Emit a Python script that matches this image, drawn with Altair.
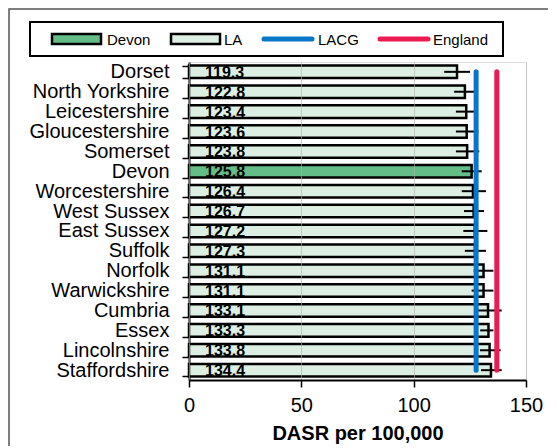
import altair as alt
import pandas as pd

# ---------------- data ----------------
areas = ["Dorset", "North Yorkshire", "Leicestershire", "Gloucestershire", "Somerset",
         "Devon", "Worcestershire", "West Sussex", "East Sussex", "Suffolk", "Norfolk",
         "Warwickshire", "Cumbria", "Essex", "Lincolnshire", "Staffordshire"]
rates = [119.3, 122.8, 123.4, 123.6, 123.8, 125.8, 126.4, 126.7, 127.2, 127.3,
         131.1, 131.1, 133.1, 133.3, 133.8, 134.4]
ci_low = [113.6, 118.0, 118.8, 118.8, 118.8, 121.4, 121.4, 122.4, 122.1, 122.8,
          126.7, 125.8, 127.0, 129.6, 129.5, 130.0]
ci_high = [125.1, 127.6, 128.0, 128.8, 129.2, 130.3, 132.2, 131.3, 132.8, 132.2,
           135.5, 135.5, 139.2, 135.5, 138.7, 139.2]
ref_names = ["LACG", "England"]
ref_values = [127.8, 137.0]
x_ticks = [0, 50, 100, 150]
legend_names = ["Devon", "LA", "LACG", "England"]

FONT = "Liberation Sans"
C_DEVON = "#64BC87"
C_LA = "#DDEFE2"
C_LACG = "#0A76C8"
C_ENG = "#EC1B53"
REF_COLORS = {"LACG": C_LACG, "England": C_ENG}

df = pd.DataFrame({"area": areas, "rate": rates, "lo": ci_low, "hi": ci_high})
df["group"] = ["Devon" if a == "Devon" else "LA" for a in areas]
df["label"] = [f"{v:.1f}" for v in rates]
refs = pd.DataFrame({"name": ref_names, "value": ref_values})

yenc = alt.Y("area:N", sort=areas,
             scale=alt.Scale(domain=areas, paddingInner=0.37, paddingOuter=0.18),
             axis=alt.Axis(title=None, labelFont=FONT, labelFontSize=20, labelColor="black",
                           labelPadding=13, tickSize=7, tickColor="black", tickWidth=1.5,
                           tickBand="extent", domainColor="black", domainWidth=2, grid=False))
xscale = alt.Scale(domain=[0, 150], nice=False, zero=True)
xaxis = alt.Axis(values=x_ticks, title="DASR per 100,000", labelFont=FONT, labelFontSize=20,
                 labelColor="black", labelPadding=8, labelFlush=False, tickSize=7,
                 tickColor="black", tickWidth=1.5, domainColor="black", domainWidth=2,
                 grid=True, gridColor="#b0b0b0", gridOpacity=0.6, gridWidth=1, zindex=1,
                 titleFont=FONT, titleFontSize=20, titleFontWeight="bold",
                 titleColor="black", titlePadding=8)

bars = alt.Chart(df).mark_bar(stroke="black", strokeWidth=2.5).encode(
    x=alt.X("rate:Q", scale=xscale, axis=xaxis),
    y=yenc,
    color=alt.Color("group:N", scale=alt.Scale(domain=["Devon", "LA"], range=[C_DEVON, C_LA]),
                    legend=None),
)

errs = alt.Chart(df).mark_rule(color="black", strokeWidth=2).encode(
    x=alt.X("lo:Q"), x2="hi:Q", y=alt.Y("area:N", sort=areas)
)

labels = alt.Chart(df).mark_text(align="left", baseline="middle", dx=16, dy=1,
                                 font=FONT, fontSize=16, fontWeight="bold",
                                 color="black").encode(
    x=alt.datum(0), y=alt.Y("area:N", sort=areas), text="label:N"
)

reflines = [
    alt.Chart(refs).transform_filter(alt.datum.name == nm).mark_rule(
        strokeWidth=5, strokeCap="round", color=REF_COLORS[nm]).encode(
        x=alt.X("value:Q"),
        y=alt.YDatum(datum=areas[0], type="nominal", bandPosition=0.5),
        y2=alt.Y2Datum(datum=areas[-1], bandPosition=0.5),
    )
    for nm in ref_names
]

one = alt.Data(values=[{}])

# outer figure border (left/top visible)
frame = alt.Chart(one).mark_rect(fillOpacity=0, stroke="#555555", strokeWidth=1.5).encode(
    x=alt.value(-180), x2=alt.value(700), y=alt.value(-53), y2=alt.value(700)
)

# manual legend
leg_layers = [
    alt.Chart(one).mark_rect(fill="white", stroke="black", strokeWidth=2).encode(
        x=alt.value(-159), x2=alt.value(314), y=alt.value(-40), y2=alt.value(-6))
]
swatch_x = [(-137, -88), (-18, 31), (73, 125), (189, 241)]
text_x = [-82, 35, 129, 244]
for i, name in enumerate(legend_names):
    x0, x1 = swatch_x[i]
    if name in ("Devon", "LA"):
        leg_layers.append(alt.Chart(one).mark_rect(
            fill=C_DEVON if name == "Devon" else C_LA, stroke="black", strokeWidth=2.5).encode(
            x=alt.value(x0), x2=alt.value(x1), y=alt.value(-28), y2=alt.value(-18)))
    else:
        leg_layers.append(alt.Chart(one).mark_rule(
            color=REF_COLORS[name], strokeWidth=5, strokeCap="round").encode(
            x=alt.value(x0 + 2), x2=alt.value(x1 - 2), y=alt.value(-23)))
    leg_layers.append(alt.Chart(one).mark_text(
        align="left", baseline="middle", font=FONT, fontSize=15, color="black", text=name).encode(
        x=alt.value(text_x[i]), y=alt.value(-22)))

chart = alt.layer(bars, errs, labels, *reflines, frame, *leg_layers).properties(
    width=337, height=318,
    padding={"left": 181, "top": 54, "right": 22, "bottom": 66},
    autosize=alt.AutoSizeParams(type="none"),
).configure_view(stroke="#8c8c8c", strokeWidth=2).configure(background="white")

chart.save("out.html", embed_options={"renderer": "svg", "actions": False})
